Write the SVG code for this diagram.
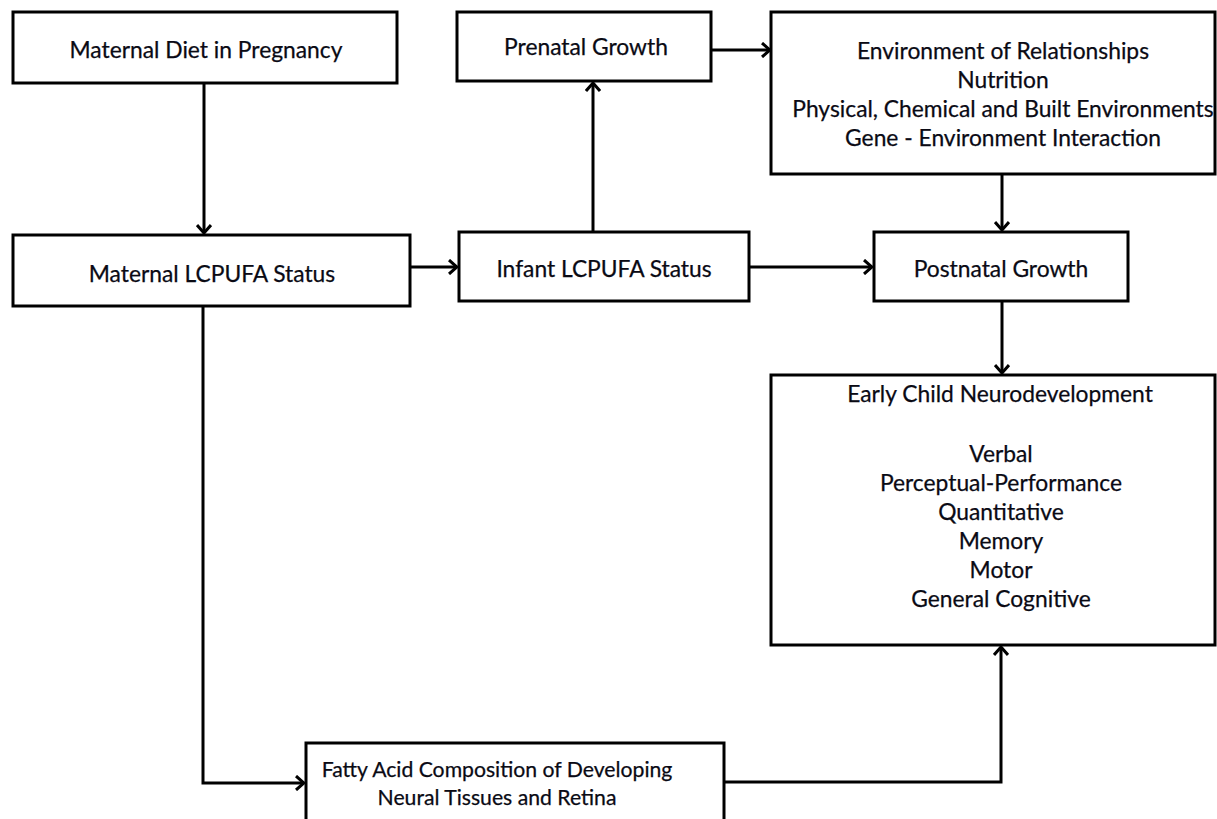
<svg xmlns="http://www.w3.org/2000/svg" width="1217" height="819" viewBox="0 0 1217 819">
<style>
.box{fill:#fff;stroke:#000;stroke-width:3}
.t{font-family:Lato,"Liberation Sans",sans-serif;font-size:22.8px;fill:#0a0a14;stroke:#0a0a14;stroke-width:0.25;text-anchor:middle}
.s{font-size:21.2px}
.c{fill:none;stroke:#000;stroke-width:3}
</style>
<defs>
<marker id="arr" viewBox="0 0 10 16" refX="9" refY="8" markerWidth="10" markerHeight="16" orient="auto" markerUnits="userSpaceOnUse">
<path d="M1,1 L9,8 L1,15" fill="none" stroke="#000" stroke-width="3"/>
</marker>
</defs>
<rect width="1217" height="819" fill="#fff"/>
<g id="connectors">
<path class="c" d="M204,83 L204,233" marker-end="url(#arr)"/>
<path class="c" d="M410,267 L457,267" marker-end="url(#arr)"/>
<path class="c" d="M593,232 L593,83" marker-end="url(#arr)"/>
<path class="c" d="M711,50 L770,50" marker-end="url(#arr)"/>
<path class="c" d="M1002,174 L1002,230" marker-end="url(#arr)"/>
<path class="c" d="M749,267 L872,267" marker-end="url(#arr)"/>
<path class="c" d="M1002,301 L1002,373" marker-end="url(#arr)"/>
<path class="c" d="M203,306 L203,783 L304,783" marker-end="url(#arr)"/>
<path class="c" d="M724,782 L1001,782 L1001,647" marker-end="url(#arr)"/>
</g>
<g id="maternal-diet">
<rect class="box" x="13" y="12" width="384" height="71"/>
<text class="t" x="206" y="58">Maternal Diet in Pregnancy</text>
</g>
<g id="maternal-lcpufa">
<rect class="box" x="13" y="235" width="397" height="71"/>
<text class="t" x="212" y="282">Maternal LCPUFA Status</text>
</g>
<g id="prenatal-growth">
<rect class="box" x="457" y="12" width="254" height="69"/>
<text class="t" x="586" y="55">Prenatal Growth</text>
</g>
<g id="infant-lcpufa">
<rect class="box" x="459" y="232" width="290" height="69"/>
<text class="t" x="604" y="277">Infant LCPUFA Status</text>
</g>
<g id="environment">
<rect class="box" x="771" y="12" width="444" height="162"/>
<text class="t" x="1003" y="59">Environment of Relationships</text>
<text class="t" x="1003" y="88">Nutrition</text>
<text class="t" x="1003" y="117">Physical, Chemical and Built Environments</text>
<text class="t" x="1003" y="146">Gene - Environment Interaction</text>
</g>
<g id="postnatal-growth">
<rect class="box" x="874" y="232" width="254" height="69"/>
<text class="t" x="1001" y="277">Postnatal Growth</text>
</g>
<g id="neurodevelopment">
<rect class="box" x="771" y="375" width="444" height="270"/>
<text class="t" x="1000" y="402">Early Child Neurodevelopment</text>
<text class="t" x="1001" y="462">Verbal</text>
<text class="t" x="1001" y="491">Perceptual-Performance</text>
<text class="t" x="1001" y="520">Quantitative</text>
<text class="t" x="1001" y="549">Memory</text>
<text class="t" x="1001" y="578">Motor</text>
<text class="t" x="1001" y="607">General Cognitive</text>
</g>
<g id="fatty-acid">
<rect class="box" x="306" y="743" width="418" height="90"/>
<text class="t s" x="497" y="777">Fatty Acid Composition of Developing</text>
<text class="t s" x="497" y="805">Neural Tissues and Retina</text>
</g>
</svg>
